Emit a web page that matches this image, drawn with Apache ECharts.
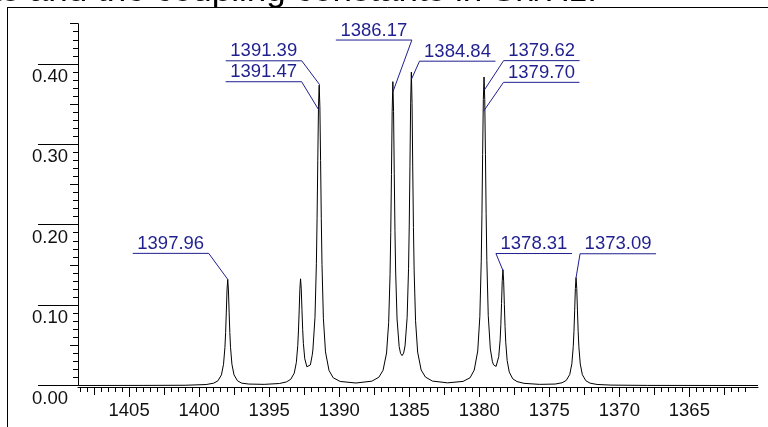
<!DOCTYPE html>
<html>
<head>
<meta charset="utf-8">
<script src="https://cdn.jsdelivr.net/npm/echarts@6.0.0/dist/echarts.min.js"></script>
<style>
  html, body { margin: 0; padding: 0; background: #fff; }
  #chart { width: 768px; height: 427px; }
</style>
</head>
<body>
<div id="chart"></div>
<script>
  // spectrum trace (shift in Hz, intensity)
  const shiftHz = [
    1408.6, 1404, 1401, 1399.5, 1398.96, 1398.66, 1398.41, 1398.26, 1398.16, 1398.11, 1398.06, 1398.01,
    1397.96, 1397.91, 1397.86, 1397.81, 1397.76, 1397.66, 1397.51, 1397.26, 1396.96, 1396.46, 1395.36,
    1394.26, 1393.76, 1393.46, 1393.21, 1393.06, 1392.96, 1392.91, 1392.86, 1392.81, 1392.76, 1392.71,
    1392.66, 1392.61, 1392.56, 1392.46, 1392.31, 1392.20, 1392.06, 1391.93, 1391.88, 1391.73, 1391.63,
    1391.58, 1391.53, 1391.48, 1391.43, 1391.38, 1391.33, 1391.28, 1391.23, 1391.13, 1390.98, 1390.73,
    1390.43, 1389.93, 1388.80, 1387.67, 1387.17, 1386.87, 1386.62, 1386.47, 1386.37, 1386.32, 1386.27,
    1386.22, 1386.17, 1386.12, 1386.07, 1386.02, 1385.97, 1385.87, 1385.72, 1385.62, 1385.51, 1385.40,
    1385.30, 1385.15, 1385.05, 1385.00, 1384.95, 1384.90, 1384.85, 1384.80, 1384.75, 1384.70, 1384.65,
    1384.55, 1384.40, 1384.15, 1383.85, 1383.35, 1382.26, 1381.16, 1380.66, 1380.36, 1380.11, 1379.96,
    1379.86, 1379.81, 1379.76, 1379.71, 1379.66, 1379.61, 1379.56, 1379.51, 1379.46, 1379.36, 1379.21,
    1379.06, 1378.98, 1378.90, 1378.80, 1378.76, 1378.61, 1378.51, 1378.46, 1378.41, 1378.36, 1378.31,
    1378.26, 1378.21, 1378.16, 1378.11, 1378.01, 1377.86, 1377.61, 1377.31, 1376.81, 1375.70, 1374.59,
    1374.09, 1373.79, 1373.54, 1373.39, 1373.29, 1373.24, 1373.19, 1373.14, 1373.09, 1373.04, 1372.99,
    1372.94, 1372.89, 1372.79, 1372.64, 1372.39, 1372.09, 1371.59, 1370.60, 1368.00, 1360.10
  ];
  const intensity = [
    0, 0.0001, 0.0003, 0.0012, 0.0029, 0.0058, 0.0132, 0.0264, 0.0475, 0.066, 0.0913, 0.1188,
    0.132, 0.1188, 0.0913, 0.066, 0.0475, 0.0264, 0.0132, 0.0058, 0.0029, 0.0018, 0.0014,
    0.0025, 0.0045, 0.0077, 0.0154, 0.0287, 0.0496, 0.0678, 0.0927, 0.1195, 0.1327, 0.1202,
    0.0941, 0.0699, 0.0525, 0.0333, 0.0233, 0.0222, 0.0256, 0.0375, 0.0441, 0.0849, 0.1514,
    0.2081, 0.2802, 0.3466, 0.3736, 0.3466, 0.28, 0.2077, 0.1507, 0.0836, 0.0418, 0.0188,
    0.0096, 0.005, 0.0031, 0.0054, 0.0103, 0.0189, 0.0404, 0.0782, 0.138, 0.1905, 0.2623,
    0.3403, 0.3779, 0.341, 0.2638, 0.1927, 0.1411, 0.0828, 0.0484, 0.0399, 0.0372, 0.0403,
    0.0493, 0.0849, 0.1452, 0.1985, 0.272, 0.3516, 0.3898, 0.3509, 0.2705, 0.1966, 0.1425,
    0.0805, 0.0416, 0.0193, 0.0106, 0.0055, 0.0033, 0.0051, 0.0096, 0.0192, 0.043, 0.0858,
    0.1545, 0.213, 0.2872, 0.3557, 0.3837, 0.3559, 0.2877, 0.2137, 0.1555, 0.0872, 0.0454,
    0.0295, 0.0257, 0.0237, 0.0237, 0.0248, 0.036, 0.0568, 0.0758, 0.102, 0.1304, 0.144,
    0.1297, 0.1005, 0.0735, 0.0538, 0.0311, 0.0167, 0.0083, 0.0049, 0.0027, 0.0014, 0.0018,
    0.0034, 0.0063, 0.0137, 0.0271, 0.0485, 0.0672, 0.0929, 0.1208, 0.1342, 0.1207, 0.0928,
    0.0671, 0.0482, 0.0268, 0.0134, 0.0059, 0.0029, 0.0013, 0.0005, 0.0001, 0
  ];

  // picked peaks
  const peakLabels = ['1397.96', '1391.39', '1391.47', '1386.17', '1384.84', '1379.62', '1379.70', '1378.31', '1373.09'];
  const peakShift = [1397.96, 1391.39, 1391.47, 1386.17, 1384.84, 1379.62, 1379.70, 1378.31, 1373.09];
  const peakLevel = [0.132, 0.374, 0.343, 0.365, 0.381, 0.368, 0.341, 0.143, 0.134];

  const xTicks = [1405, 1400, 1395, 1390, 1385, 1380, 1375, 1370, 1365];
  const yTicks = [0, 0.1, 0.2, 0.3, 0.4];
  const yTickLabels = ['0.00', '0.10', '0.20', '0.30', '0.40'];

  // label placement: leader end offset from the peak point, and which end of the underline it joins
  const leaderDx = [-19, -18, -17, 19, 8, 19, 20, -7, 4];
  const leaderDy = [-26, -24, -28, -52, -18, -29, -29, -17, -24];
  const leaderSide = ['right', 'right', 'right', 'right', 'left', 'left', 'left', 'left', 'left'];

  const X_MIN = 1360.1, X_MAX = 1408.65;
  const BLUE = '#1f1f8f';
  const FONT = '"Liberation Sans", Arial, sans-serif';

  // minor / mid tick positions
  const xMinor = [], xMid = [];
  for (let k = 2722; k <= 2817; k++) {
    const v = k / 2;
    if (v % 5 === 0) continue;
    if (v % 2.5 === 0) xMid.push(v); else xMinor.push(v);
  }
  const yMinor = [], yMid = [];
  for (let k = 1; k <= 45; k++) {
    if (k % 10 === 0) continue;
    if (k % 5 === 0) yMid.push(k / 100); else yMinor.push(k / 100);
  }

  function xAxisOf(ticks, len, withLabels, line) {
    return {
      type: 'value', min: X_MIN, max: X_MAX, inverse: true, position: 'bottom', offset: 1.5,
      axisLine: { show: line, onZero: false, lineStyle: { color: '#000', width: 1 } },
      axisTick: { show: true, customValues: ticks, length: len, lineStyle: { color: '#000', width: 1 } },
      axisLabel: withLabels ? {
        show: true, customValues: ticks, margin: 14, color: '#111',
        fontFamily: FONT, fontSize: 18.5, formatter: v => String(v)
      } : { show: false },
      splitLine: { show: false }
    };
  }
  function yAxisOf(ticks, len, withLabels, line) {
    return {
      type: 'value', min: 0, max: 0.45, position: 'left',
      axisLine: { show: line, onZero: false, lineStyle: { color: '#000', width: 1 } },
      axisTick: { show: true, customValues: ticks, length: len, lineStyle: { color: '#000', width: 1 } },
      axisLabel: withLabels ? {
        show: true, customValues: ticks, margin: 10, color: '#111',
        verticalAlign: 'top', lineHeight: 26,
        fontFamily: FONT, fontSize: 18.5,
        formatter: v => yTickLabels[yTicks.findIndex(t => Math.abs(t - v) < 1e-9)]
      } : { show: false },
      splitLine: { show: false }
    };
  }

  const chart = echarts.init(document.getElementById('chart'));
  chart.setOption({
    animation: false,
    backgroundColor: '#fff',
    grid: { left: 78, right: 10, top: 23.7, bottom: 41.5 },
    xAxis: [xAxisOf(xMinor, 5, false, true), xAxisOf(xMid, 8, false, false), xAxisOf(xTicks, 10, true, false)],
    yAxis: [yAxisOf(yMinor, 5, false, true), yAxisOf(yMid, 8, false, false), yAxisOf(yTicks, 40, true, false)],
    graphic: [
      { type: 'line', shape: { x1: 7.5, y1: 7, x2: 7.5, y2: 427 }, style: { stroke: '#000', lineWidth: 1 } },
      { type: 'line', shape: { x1: 7, y1: 7.5, x2: 768, y2: 7.5 }, style: { stroke: '#000', lineWidth: 1 } },
      {
        type: 'text',
        style: {
          x: 597, y: -26, text: 'Chemical shifts and the coupling constants in Sn/Hz.',
          textAlign: 'right', textVerticalAlign: 'top', font: '35px ' + FONT, fill: '#000'
        }
      }
    ],
    series: [
      {
        type: 'line',
        data: shiftHz.map((x, i) => [x, intensity[i]]),
        showSymbol: false,
        lineStyle: { color: '#000', width: 1 },
        silent: true
      },
      {
        type: 'custom',
        silent: true,
        clip: false,
        z: 5,
        data: peakLabels.map((t, i) => [peakShift[i], peakLevel[i], i]),
        renderItem(params, api) {
          const i = api.value(2);
          const p = api.coord([api.value(0), api.value(1)]);
          const ax = p[0] + leaderDx[i], ay = p[1] + leaderDy[i];
          const x0 = leaderSide[i] === 'right' ? ax - 76 : ax;
          return {
            type: 'group',
            children: [
              { type: 'line', shape: { x1: p[0], y1: p[1], x2: ax, y2: ay }, style: { stroke: BLUE, lineWidth: 1 } },
              { type: 'line', shape: { x1: x0, y1: ay, x2: x0 + 76, y2: ay }, style: { stroke: BLUE, lineWidth: 1 } },
              {
                type: 'text',
                style: {
                  x: x0 + 38, y: ay, text: peakLabels[i], textAlign: 'center', textVerticalAlign: 'bottom',
                  font: '18.5px ' + FONT, fill: BLUE
                }
              }
            ]
          };
        }
      }
    ]
  });
</script>
</body>
</html>
